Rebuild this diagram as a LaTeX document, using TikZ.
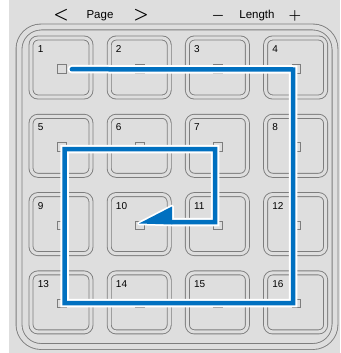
\documentclass[tikz,border=0pt]{standalone}
\usepackage{fontspec}
\setmainfont{Liberation Sans}
\usetikzlibrary{calc}
\definecolor{panelgray}{RGB}{222,222,222}
\definecolor{edgegray}{RGB}{125,125,125}
\definecolor{traceblue}{RGB}{0,112,192}
\begin{document}
\begin{tikzpicture}[x=1pt, y=-1pt, every node/.style={font=\fontsize{10}{11}\selectfont}]
  \tikzstyle{keybox}=[draw=edgegray,line width=0.9pt,double=panelgray,double distance=3.1pt,rounded corners=7pt,minimum width=60pt,minimum height=59pt,inner sep=0pt]
  \tikzstyle{led}=[draw=edgegray,line width=0.8pt,fill=panelgray,minimum size=8.5pt,inner sep=0pt]
  \tikzstyle{keynum}=[anchor=base west,inner sep=0pt]
  \tikzstyle{toplabel}=[anchor=base,inner sep=0pt,font=\fontsize{11.5}{13}\selectfont]
  \tikzstyle{topsign}=[inner sep=0pt]
  \tikzstyle{halo}=[draw=white,line width=8.5pt,line join=miter,line cap=round]
  \tikzstyle{trace}=[draw=traceblue,line width=4.5pt,line join=miter,line cap=round]
  \useasboundingbox (0,0) rectangle (340,353);
  \fill[white] (0,0) rectangle (340,353);
  \fill[panelgray] (9,0) rectangle (340,353);
  % panel outline
  \draw[draw=edgegray,line width=0.9pt,double=panelgray,double distance=5pt,rounded corners=22pt] (19,27) rectangle (335,346.5);
  % header
  \node[topsign,font=\fontsize{17}{17}\selectfont\boldmath] (pgprev) at (61,15.5) {$<$};
  \node[toplabel] (pg) at (100,18.3) {Page};
  \node[topsign,font=\fontsize{17}{17}\selectfont\boldmath] (pgnext) at (141,15.5) {$>$};
  \node[topsign,font=\fontsize{14}{14}\selectfont\boldmath] (lenless) at (218,15.5) {$-$};
  \node[toplabel] (len) at (257,18.3) {Length};
  \node[topsign,font=\fontsize{14}{14}\selectfont\boldmath] (lenmore) at (295,15.5) {$+$};
  % keys
  \foreach \r in {0,...,3}{
    \foreach \c in {0,...,3}{
      \pgfmathtruncatemacro\idx{4*\r+\c+1}
      \node[keybox] (k\idx) at ({61+78.2*\c},{67.5+78.3*\r}) {};
      \node[keynum] (n\idx) at ($(k\idx.north west)+(7,15)$) {\idx};
      \node[led] (l\idx) at ($(k\idx.center)+(0.7,1.2)$) {};
    }
  }
  % trace
  \coordinate (start) at ($(l1.east)+(5.5,0.5)$);
  \coordinate (t1) at (293,69.5);
  \coordinate (t2) at (293,303);
  \coordinate (t3) at (64.5,303);
  \coordinate (t4) at (64.5,149);
  \coordinate (t5) at (215,149);
  \coordinate (t6) at (215,222);
  \coordinate (ahback) at (172,222);
  \coordinate (ahtip) at (139,223.5);
  \coordinate (ahtop) at (172,206.5);
  \coordinate (ahbot) at (172,224.5);
  \draw[halo] (start) -- (t1) -- (t2) -- (t3) -- (t4) -- (t5) -- (t6) -- (ahback);
  \draw[white,fill=white,line width=3.5pt,line join=round] (ahtip) -- (ahtop) -- (ahbot) -- cycle;
  \draw[trace] (start) -- (t1) -- (t2) -- (t3) -- (t4) -- (t5) -- (t6) -- (ahback);
  \fill[traceblue] (ahtip) -- (ahtop) -- (ahbot) -- cycle;
\end{tikzpicture}
\end{document}
